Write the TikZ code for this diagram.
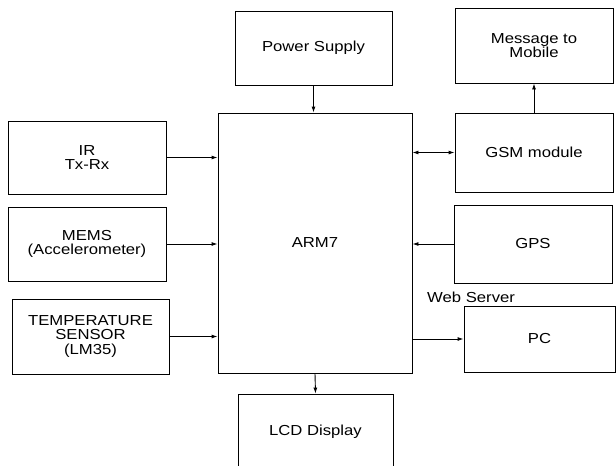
\documentclass[tikz,border=0pt]{standalone}
\usepackage{fontspec}
\setmainfont{Liberation Sans}[FakeStretch=1.15]
\usetikzlibrary{arrows.meta}
\begin{document}
\begin{tikzpicture}[x=1pt,y=-1pt,
  blk/.style={draw,line width=0.9pt,inner sep=0pt,align=center,font=\fontsize{14.5}{14.5}\selectfont},
  arr/.style={line width=0.9pt,-{Latex[length=6pt,width=4pt]}},
  darr/.style={line width=0.9pt,{Latex[length=6pt,width=4pt]}-{Latex[length=6pt,width=4pt]}}]
\useasboundingbox (0,0) rectangle (616,466);
\clip (0,0) rectangle (616,466);
\fill[white] (0,0) rectangle (616,466);
\node[blk,minimum width=157,minimum height=74] (pow) at (313.5,48) {Power Supply};
\node[blk,minimum width=158,minimum height=75] (msg) at (534,45.5) {Message to\\Mobile};
\node[blk,minimum width=194,minimum height=260] (arm) at (315,243) {ARM7};
\node[blk,minimum width=158,minimum height=79] (gsm) at (534,152.5) {GSM module};
\node[blk,minimum width=158,minimum height=73] (ir) at (87,157.5) {IR\\Tx-Rx};
\node[blk,minimum width=158,minimum height=74] (mems) at (87,244) {MEMS\\(Accelerometer)};
\node[blk,minimum width=157,minimum height=75] (temp) at (90.5,336.5) {TEMPERATURE\\SENSOR\\(LM35)};
\node[blk,minimum width=158,minimum height=78] (gps) at (533,244) {GPS};
\node[blk,minimum width=151,minimum height=66] (pc) at (539.5,339) {PC};
\node[blk,minimum width=155,minimum height=76] (lcd) at (315.5,432) {LCD Display};
\node[anchor=west,inner sep=0pt,font=\fontsize{14.5}{14.5}\selectfont] (web) at (427,297) {Web Server};
\draw[arr] (pow.south) -- (pow.south |- arm.north);
\draw[arr] (gsm.north) -- (msg.south);
\draw[darr] (arm.east |- gsm.west) -- (gsm.west);
\draw[arr] (ir.east) -- (ir.east -| arm.west);
\draw[arr] (mems.east) -- (mems.east -| arm.west);
\draw[arr] (temp.east) -- (temp.east -| arm.west);
\draw[arr] (gps.west) -- (gps.west -| arm.east);
\draw[arr] (arm.east |- pc.west) -- (pc.west);
\draw[arr] (arm.south) -- (lcd.north);
\end{tikzpicture}
\end{document}
